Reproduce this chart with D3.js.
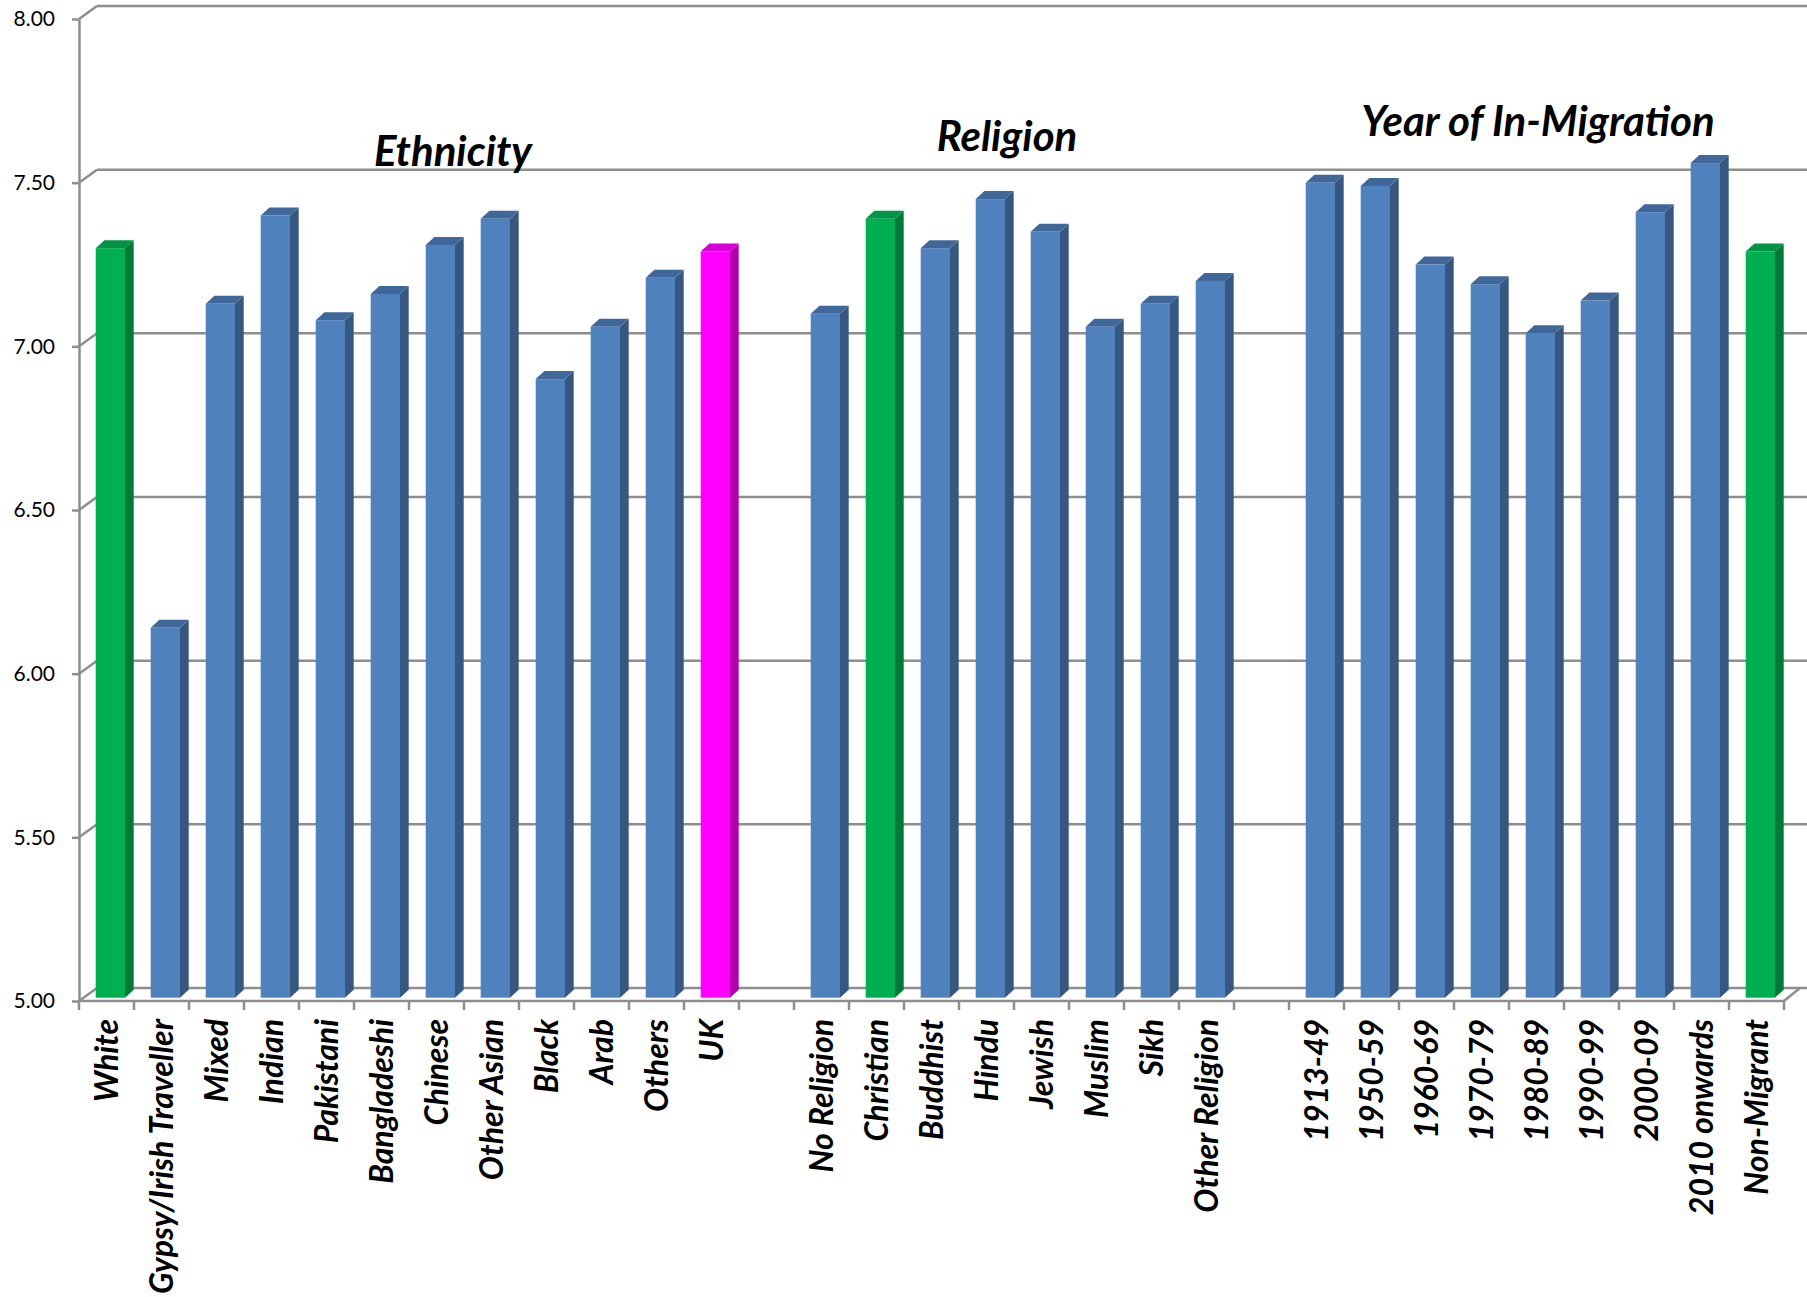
<!DOCTYPE html>
<html>
<head>
<meta charset="utf-8">
<script src="https://cdn.jsdelivr.net/npm/d3@7"></script>
<style>
  html, body { margin: 0; padding: 0; background: #ffffff; }
  svg { display: block; }
  text { font-family: Lato, "Open Sans", sans-serif; }
</style>
</head>
<body>
<script>
// ---------------- DATA ----------------
const ethnicityCats = ["White", "Gypsy/Irish Traveller", "Mixed", "Indian", "Pakistani", "Bangladeshi",
  "Chinese", "Other Asian", "Black", "Arab", "Others", "UK"];
const ethnicityVals = [7.29, 6.13, 7.12, 7.39, 7.07, 7.15, 7.30, 7.38, 6.89, 7.05, 7.20, 7.28];

const religionCats = ["No Religion", "Christian", "Buddhist", "Hindu", "Jewish", "Muslim", "Sikh", "Other Religion"];
const religionVals = [7.09, 7.38, 7.29, 7.44, 7.34, 7.05, 7.12, 7.19];

const migrationCats = ["1913-49", "1950-59", "1960-69", "1970-79", "1980-89", "1990-99", "2000-09",
  "2010 onwards", "Non-Migrant"];
const migrationVals = [7.49, 7.48, 7.24, 7.18, 7.03, 7.13, 7.40, 7.55, 7.28];

const groupTitles = ["Ethnicity", "Religion", "Year of In-Migration"];
const yTickValues = [5.0, 5.5, 6.0, 6.5, 7.0, 7.5, 8.0];
const greenCats = ["White", "Christian", "Non-Migrant"];
const magentaCats = ["UK"];

// ---------------- BUILD ----------------
const rows = [];
ethnicityCats.forEach((c, i) => rows.push({ key: c, label: c, value: ethnicityVals[i] }));
rows.push({ key: "__gap1", label: "", value: null });
religionCats.forEach((c, i) => rows.push({ key: c, label: c, value: religionVals[i] }));
rows.push({ key: "__gap2", label: "", value: null });
migrationCats.forEach((c, i) => rows.push({ key: c, label: c, value: migrationVals[i] }));

const W = 1807, H = 1297;
const svg = d3.select("body").append("svg").attr("width", W).attr("height", H);

const axisLeftX = 79, axisRightX = 1784;
const depthDX = 18, depthDXRight = 16;
const gridColor = "#8e8e8e";

const x = d3.scaleBand().domain(rows.map(d => d.key)).range([axisLeftX, axisRightX]).padding(0);
const yFront = d3.scaleLinear().domain([5, 8]).range([1001, 19]);
const yBack = d3.scaleLinear().domain([5, 8]).range([988, 6]);
const yBar = d3.scaleLinear().domain([5, 8]).range([997.7, 15.8]);

// ---------------- WALL GRIDLINES ----------------
const grid = svg.append("g");
yTickValues.forEach(v => {
  grid.append("line")
    .attr("x1", axisLeftX).attr("y1", yFront(v))
    .attr("x2", axisLeftX + depthDX).attr("y2", yBack(v))
    .attr("stroke", gridColor).attr("stroke-width", 2.5);
  grid.append("line")
    .attr("x1", axisLeftX + depthDX).attr("y1", yBack(v))
    .attr("x2", W).attr("y2", yBack(v))
    .attr("stroke", gridColor).attr("stroke-width", 2.5);
});
// right floor edge
grid.append("line")
  .attr("x1", axisRightX).attr("y1", yFront(5))
  .attr("x2", axisRightX + depthDXRight).attr("y2", yBack(5))
  .attr("stroke", gridColor).attr("stroke-width", 2.5);

// ---------------- BARS ----------------
const faceOff = 16.7, faceW = 29.3, sideW = 8.7, topDY = -8;
function colors(key) {
  if (greenCats.includes(key)) return { face: "#00B050", side: "#007A36", top: "#009444" };
  if (magentaCats.includes(key)) return { face: "#FF00FF", side: "#B000B0", top: "#D400D4" };
  return { face: "#4F81BD", side: "#36577F", top: "#40679A" };
}
const bars = svg.append("g").selectAll("g.bar")
  .data(rows.filter(d => d.value !== null))
  .join("g").attr("class", "bar");

bars.each(function (d) {
  const g = d3.select(this);
  const c = colors(d.key);
  const x0 = x(d.key) + faceOff, x1 = x0 + faceW;
  const yt = yBar(d.value), yb = yBar(5);
  g.append("path")
    .attr("d", `M${x1},${yt} L${x1 + sideW},${yt + topDY} L${x1 + sideW},${yb + topDY} L${x1},${yb} Z`)
    .attr("fill", c.side);
  g.append("path")
    .attr("d", `M${x0},${yt} L${x0 + sideW},${yt + topDY} L${x1 + sideW},${yt + topDY} L${x1},${yt} Z`)
    .attr("fill", c.top);
  g.append("rect")
    .attr("x", x0).attr("y", yt).attr("width", faceW).attr("height", yb - yt)
    .attr("fill", c.face);
});

// ---------------- Y AXIS ----------------
const yAxis = d3.axisLeft(yFront).tickValues(yTickValues).tickFormat(d3.format(".2f"))
  .tickSize(7).tickSizeOuter(0).tickPadding(17);
const gy = svg.append("g").attr("transform", `translate(${axisLeftX},0)`).call(yAxis);
gy.select(".domain").attr("stroke", gridColor).attr("stroke-width", 2.5);
gy.selectAll(".tick line").attr("stroke", gridColor).attr("stroke-width", 2.5);
gy.selectAll(".tick text").attr("font-size", 21).attr("fill", "#000")
  .attr("font-family", "Lato, sans-serif");

// ---------------- X AXIS ----------------
const gx = svg.append("g");
gx.append("line")
  .attr("x1", axisLeftX).attr("y1", yFront(5)).attr("x2", axisRightX).attr("y2", yFront(5))
  .attr("stroke", gridColor).attr("stroke-width", 2.5);
const boundaries = rows.map(d => x(d.key)).concat([axisRightX]);
gx.selectAll("line.tk").data(boundaries).join("line").attr("class", "tk")
  .attr("x1", d => d).attr("x2", d => d)
  .attr("y1", yFront(5)).attr("y2", yFront(5) + 9)
  .attr("stroke", gridColor).attr("stroke-width", 2.5);

const xAxis = d3.axisBottom(x).tickSize(0).tickFormat(k => rows.find(r => r.key === k).label);
const gxl = svg.append("g").attr("transform", `translate(0,1019)`).call(xAxis);
gxl.select(".domain").remove();
gxl.selectAll(".tick text")
  .attr("transform", "rotate(-90)")
  .attr("x", 0).attr("y", 0).attr("dy", "0.36em")
  .attr("text-anchor", "end")
  .attr("font-size", 32).attr("font-weight", "bold").attr("font-style", "italic")
  .attr("font-family", "Lato, sans-serif").attr("fill", "#000");

// ---------------- GROUP TITLES ----------------
const titlePos = [
  { cx: 453, base: 166 },
  { cx: 1007, base: 151 },
  { cx: 1538, base: 136 }
];
svg.append("g").selectAll("text").data(groupTitles).join("text")
  .attr("x", (d, i) => titlePos[i].cx).attr("y", (d, i) => titlePos[i].base)
  .attr("text-anchor", "middle")
  .attr("font-size", 42).attr("font-weight", "bold").attr("font-style", "italic")
  .attr("fill", "#000")
  .text(d => d);
</script>
</body>
</html>
